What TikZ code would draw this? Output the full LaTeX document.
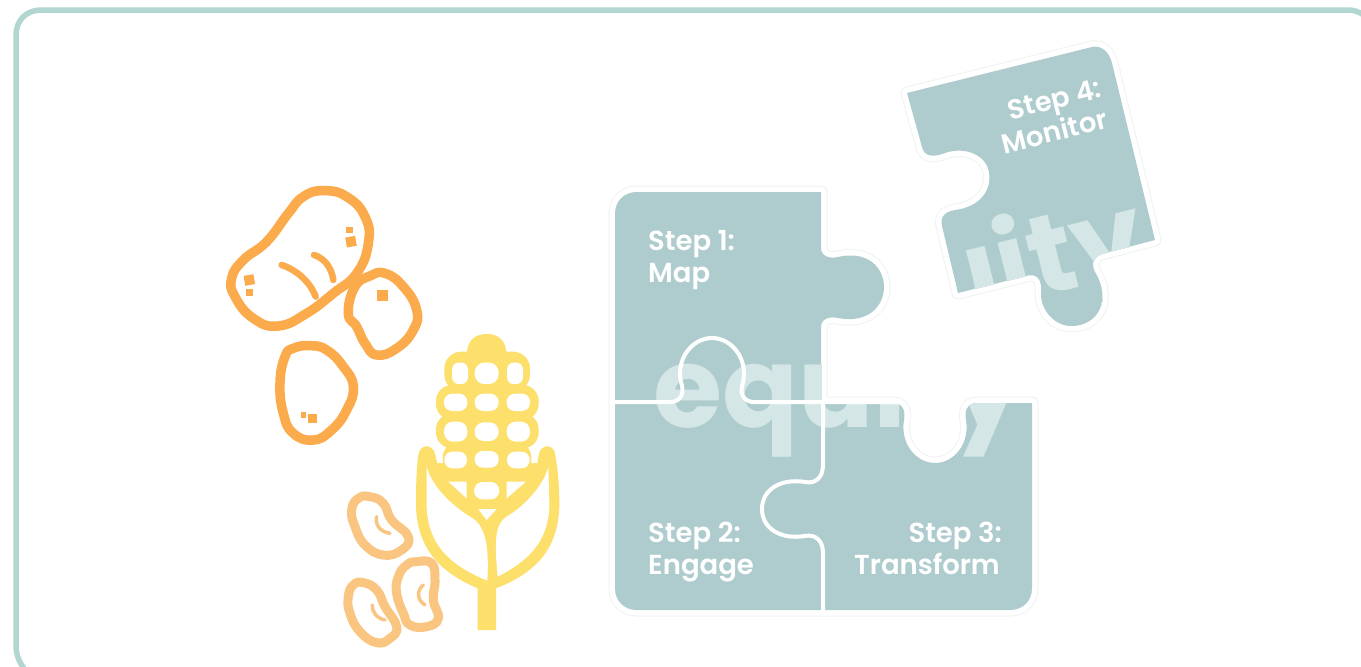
\documentclass[tikz,border=0pt]{standalone}
\usepackage{fontspec}
\setmainfont{Poppins}
\newfontfamily\stepfont{Poppins SemiBold}
\newfontfamily\wordfont{Poppins}
\definecolor{frameteal}{RGB}{178,214,208}
\definecolor{puzzle}{RGB}{174,204,205}
\definecolor{wordpale}{RGB}{212,231,230}
\definecolor{halo}{RGB}{240,243,243}
\definecolor{potato}{RGB}{251,170,76}
\definecolor{corn}{RGB}{253,223,107}
\definecolor{bean}{RGB}{250,197,128}
\tikzset{
  steplabel/.style={text=white,font=\stepfont\fontsize{27.5}{32}\selectfont,inner sep=0pt,align=left},
  bigword/.style={text=wordpale,font=\wordfont\fontsize{112}{112}\selectfont\bfseries,inner sep=0pt},
  seam/.style={draw=white,line width=4pt,line join=round},
  spud/.style={draw=potato,line width=9.5pt,line join=round,line cap=round},
  spudmark/.style={draw=potato,line width=6.5pt,line cap=round},
  beanline/.style={draw=bean,line width=9pt,line join=round},
  beanmark/.style={draw=bean,line width=3.5pt,line cap=round},
  zoomA/.style={shift={(200pt,-170pt)},x=0.33333pt,y=-0.33333pt},
}
\def\mainpiece{(615,214) .. controls (615,200) and (625,192) .. (637,192) -- (821,192) -- (821,248)
 .. controls (821,256) and (829,259) .. (838,257) .. controls (868,250) and (884,268) .. (884,287)
 .. controls (884,306) and (868,324) .. (838,318) .. controls (829,316) and (821,319) .. (821,327)
 -- (821,403) -- (893,403) .. controls (902,403) and (906,410) .. (904,420)
 .. controls (900,445) and (917,463) .. (935,463) .. controls (953,463) and (970,445) .. (966,420)
 .. controls (964,410) and (968,403) .. (977,403) -- (1032,403) -- (1032,588)
 .. controls (1032,602) and (1022,610) .. (1010,610) -- (637,610) .. controls (625,610) and (615,602) .. (615,588) -- cycle}
\def\topiece{(907,93) -- (1092,47) .. controls (1102,45) and (1109,52) .. (1112,63) -- (1155,240) -- (1105,253)
 .. controls (1095,255) and (1090,262) .. (1095,272) .. controls (1112,300) and (1098,325) .. (1073,326)
 .. controls (1055,327) and (1040,310) .. (1041,292) .. controls (1042,278) and (1036,273) .. (1026,276)
 -- (958,293) -- (942,226) .. controls (940,216) and (945,212) .. (955,210)
 .. controls (980,207) and (992,190) .. (989,172) .. controls (986,155) and (965,146) .. (945,153)
 .. controls (932,158) and (924,156) .. (922,147) -- cycle}
\begin{document}
\begin{tikzpicture}[x=1pt,y=-1pt]
\useasboundingbox (0,0) rectangle (1361,667);
\fill[white] (0,0) rectangle (1361,667);
% frame
\draw[frameteal,line width=5.5pt] (27,672) .. controls (20,664) and (16,656) .. (16,645) -- (16,36) .. controls (16,20) and (26,10) .. (42,10) -- (1348,10) .. controls (1354,10) and (1360,12) .. (1365,16);
% halos
\draw[halo,line width=13pt,line join=round] \mainpiece;
\draw[white,line width=11pt,line join=round] \mainpiece;
\draw[halo,line width=13pt,line join=round] \topiece;
\draw[white,line width=11pt,line join=round] \topiece;
% pieces
\fill[puzzle] \mainpiece;
\fill[puzzle] \topiece;
\begin{scope}
\clip \mainpiece;
\node[bigword,anchor=base west] (wordlow) at (653,427) {equity};
\end{scope}
\begin{scope}
\clip \topiece;
\node[bigword,anchor=base west,rotate=14] (wordhigh) at (933,324) {uity};
\end{scope}
% seams
\draw[seam] (615,402) -- (670,402) .. controls (680,402) and (684,394) .. (682,386)
 .. controls (674,360) and (692,338) .. (712,338) .. controls (732,338) and (750,360) .. (742,386)
 .. controls (740,394) and (744,402) .. (754,402) -- (898,402);
\draw[seam] (823,402) -- (823,465) .. controls (823,478) and (815,484) .. (805,482)
 .. controls (780,478) and (762,490) .. (762,509) .. controls (762,528) and (780,540) .. (805,536)
 .. controls (815,534) and (823,540) .. (823,553) -- (823,612);
% labels
\node[steplabel,anchor=base west] (s1a) at (648,250) {Step 1:};
\node[steplabel,anchor=base west] (s1b) at (648,282) {Map};
\node[steplabel,anchor=base west] (s2a) at (648,542) {Step 2:};
\node[steplabel,anchor=base west] (s2b) at (648,574) {Engage};
\node[steplabel,anchor=base east] (s3a) at (1002,542) {Step 3:};
\node[steplabel,anchor=base east] (s3b) at (1000,574) {Transform};
\node[steplabel,anchor=base east,rotate=14] (s4a) at (1103,97) {Step 4:};
\node[steplabel,anchor=base east,rotate=14] (s4b) at (1109,128) {Monitor};
% potatoes
\begin{scope}[zoomA]
\draw[spud] plot[smooth cycle,tension=0.8] coordinates {(370,62)(440,80)(495,140)(505,220)(470,310)(400,370)(320,430)(235,468)(160,445)(105,380)(95,325)(130,270)(200,215)(265,130)(310,80)};
\draw[spudmark] (245,285) .. controls (290,300) and (330,335) .. (347,380);
\draw[spudmark] (342,255) .. controls (375,265) and (395,295) .. (400,330);
\fill[potato,rotate around={10:(148,330)}] (133,315) rectangle (163,345);
\fill[potato] (138,356) rectangle (160,378);
\fill[potato] (437,170) rectangle (458,190);
\fill[potato,rotate around={10:(453,215)}] (438,200) rectangle (468,230);
\draw[spud] plot[smooth cycle,tension=0.8] coordinates {(555,310)(610,350)(650,420)(640,480)(590,535)(530,555)(495,520)(470,470)(445,430)(465,350)(510,318)};
\fill[potato] (531,360) rectangle (563,392);
\draw[spud] plot[smooth cycle,tension=0.8] coordinates {(330,527)(380,540)(430,590)(460,650)(440,720)(395,780)(340,810)(280,790)(250,730)(240,640)(255,560)(280,535)};
\fill[potato] (325,732) rectangle (352,759);
\fill[potato] (303,727) rectangle (319,743);
% beans
\draw[beanline] plot[smooth cycle,tension=0.8] coordinates {(510,980)(550,1000)(575,1050)(625,1100)(605,1140)(550,1155)(495,1125)(465,1070)(455,1020)(475,985)};
\draw[beanmark] (530,1040) .. controls (525,1065) and (540,1085) .. (570,1090);
\draw[beanline] plot[smooth cycle,tension=0.8] coordinates {(650,1175)(695,1180)(705,1230)(700,1290)(715,1345)(680,1370)(630,1365)(610,1330)(590,1270)(595,1220)(620,1185)};
\draw[beanmark] (670,1245) .. controls (650,1260) and (650,1290) .. (675,1305);
\draw[beanline] plot[smooth cycle,tension=0.8] coordinates {(490,1238)(530,1260)(555,1310)(590,1370)(570,1405)(530,1418)(480,1385)(450,1330)(445,1280)(460,1245)};
\draw[beanmark] (517,1305) .. controls (515,1325) and (530,1345) .. (555,1350);
% corn silhouette
\fill[corn] (833,1380) -- (833,1255) .. controls (740,1215) and (648,1150) .. (648,1000)
 .. controls (648,940) and (650,890) .. (655,855) .. controls (660,820) and (700,820) .. (706,855)
 -- (712,880) -- (1012,880) -- (1016,855) .. controls (1022,820) and (1062,820) .. (1066,855)
 .. controls (1072,890) and (1078,940) .. (1078,1000) .. controls (1078,1150) and (990,1215) .. (888,1255) -- (888,1380) -- cycle;
\fill[corn] (800,560) .. controls (800,510) and (825,492) .. (860,492) .. controls (895,492) and (920,510) .. (920,560) -- (920,900) -- (800,900) -- cycle;
\fill[corn,rounded corners=17pt] (733,545) rectangle (990,665);
\fill[corn,rounded corners=16pt] (708,645) rectangle (1016,750);
\fill[corn,rounded corners=16pt] (708,730) rectangle (1016,835);
\fill[corn,rounded corners=16pt] (728,815) rectangle (994,920);
\fill[corn] (700,880) -- (1020,880) -- (1000,1000) -- (720,1000) -- cycle;
% corn holes
\foreach \cx/\cy/\wd/\ht/\rr in {780/610/48/65/7pt,860/610/72/65/10pt,945/610/48/65/7pt,
 767/697/70/52/8pt,860/697/72/52/8.5pt,955/697/70/52/8pt,
 767/785/70/60/9pt,860/785/72/56/9pt,955/785/70/60/9pt,
 767/870/68/50/8pt,860/868/72/50/8pt,955/870/68/50/8pt,
 860/962/76/52/8.5pt}
 {\fill[white,rounded corners=\rr] (\cx-\wd/2,\cy-\ht/2) rectangle (\cx+\wd/2,\cy+\ht/2);}
\fill[white] (745,935) -- (800,935) -- (800,985) -- cycle;
\fill[white] (920,935) -- (978,935) -- (920,985) -- cycle;
\fill[white] (835,1017) -- (890,1017) -- (860,1050) -- cycle;
% leaf interiors
\fill[white] (680,890) .. controls (695,950) and (760,1010) .. (810,1040) .. controls (855,1065) and (868,1120) .. (862,1232)
 .. controls (760,1190) and (680,1130) .. (680,1000) -- cycle;
\fill[white] (1045,890) .. controls (1030,950) and (970,1010) .. (920,1040) .. controls (880,1065) and (885,1130) .. (893,1220)
 .. controls (990,1170) and (1048,1110) .. (1048,1000) -- cycle;
\end{scope}
\end{tikzpicture}
\end{document}
